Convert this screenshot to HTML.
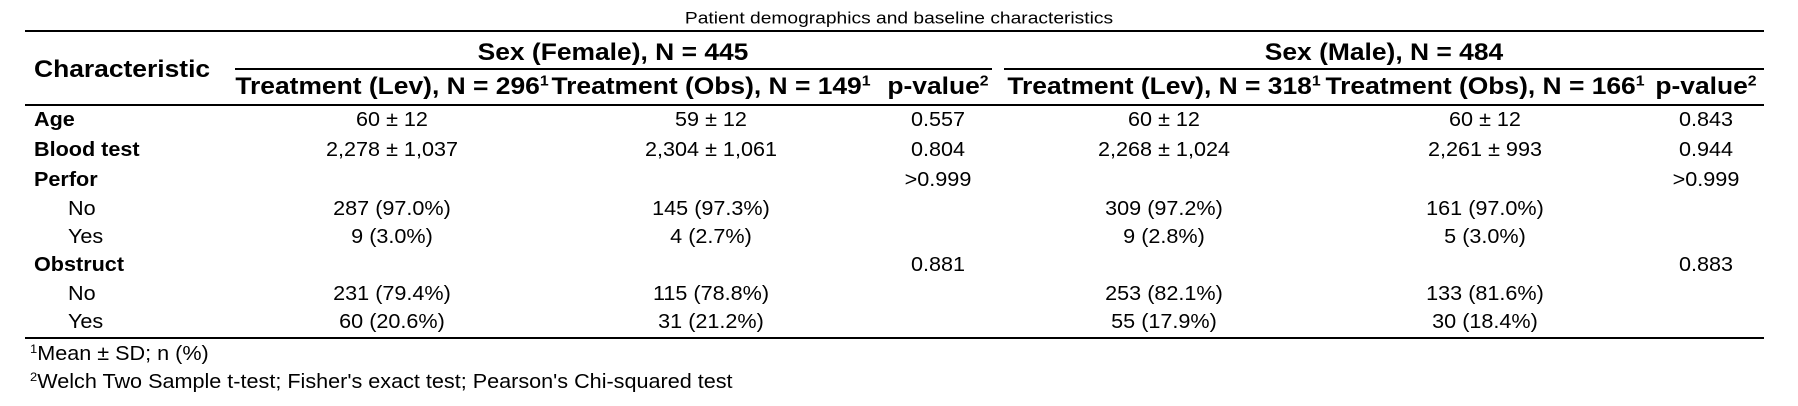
<!DOCTYPE html>
<html><head><meta charset="utf-8"><style>
body{margin:0;background:#fff;}
#p{position:relative;width:1798px;height:406px;overflow:hidden;font-family:"Liberation Sans",Arial,sans-serif;color:#000;}
.t{position:absolute;white-space:nowrap;line-height:1;}
.c{transform:translate(-50%,-50%) scaleX(1.08);transform-origin:center;}
.l{transform:translateY(-50%) scaleX(1.08);transform-origin:left center;}
.h.c{transform:translate(-50%,-50%) scaleX(1.1);}
.h.l{transform:translateY(-50%) scaleX(1.1);}
.b{font-weight:bold;}
.h{font-size:24px;font-weight:bold;}
.n{font-size:20px;}
sup{font-size:0.6em;vertical-align:0.6em;line-height:0;}
.r{position:absolute;background:#000;}
</style></head><body>
<div id="p">
<div class="t c" style="left:899px;top:18px;font-size:17px;transform:translate(-50%,-50%) scaleX(1.13)">Patient demographics and baseline characteristics</div>
<div class="r" style="left:25px;top:30px;width:1739px;height:2px"></div>
<div class="t l h" style="left:34px;top:70px">Characteristic</div>
<div class="t c h" style="left:613px;top:53px">Sex (Female), N = 445</div>
<div class="t c h" style="left:1384px;top:53px">Sex (Male), N = 484</div>
<div class="r" style="left:235px;top:68px;width:757px;height:2px"></div>
<div class="r" style="left:1004px;top:68px;width:760px;height:2px"></div>
<div class="t c h" style="left:392px;top:87px">Treatment (Lev), N = 296<sup>1</sup></div>
<div class="t c h" style="left:711px;top:87px">Treatment (Obs), N = 149<sup>1</sup></div>
<div class="t c h" style="left:938px;top:87px">p-value<sup>2</sup></div>
<div class="t c h" style="left:1164px;top:87px">Treatment (Lev), N = 318<sup>1</sup></div>
<div class="t c h" style="left:1485px;top:87px">Treatment (Obs), N = 166<sup>1</sup></div>
<div class="t c h" style="left:1706px;top:87px">p-value<sup>2</sup></div>
<div class="r" style="left:25px;top:104px;width:1739px;height:2px"></div>

<div class="t l n b" style="left:34px;top:120px">Age</div>
<div class="t c n" style="left:392px;top:120px">60 ± 12</div>
<div class="t c n" style="left:711px;top:120px">59 ± 12</div>
<div class="t c n" style="left:938px;top:120px">0.557</div>
<div class="t c n" style="left:1164px;top:120px">60 ± 12</div>
<div class="t c n" style="left:1485px;top:120px">60 ± 12</div>
<div class="t c n" style="left:1706px;top:120px">0.843</div>

<div class="t l n b" style="left:34px;top:150px">Blood test</div>
<div class="t c n" style="left:392px;top:150px">2,278 ± 1,037</div>
<div class="t c n" style="left:711px;top:150px">2,304 ± 1,061</div>
<div class="t c n" style="left:938px;top:150px">0.804</div>
<div class="t c n" style="left:1164px;top:150px">2,268 ± 1,024</div>
<div class="t c n" style="left:1485px;top:150px">2,261 ± 993</div>
<div class="t c n" style="left:1706px;top:150px">0.944</div>

<div class="t l n b" style="left:34px;top:180px">Perfor</div>
<div class="t c n" style="left:938px;top:180px">&gt;0.999</div>
<div class="t c n" style="left:1706px;top:180px">&gt;0.999</div>

<div class="t l n" style="left:68px;top:209px">No</div>
<div class="t c n" style="left:392px;top:209px">287 (97.0%)</div>
<div class="t c n" style="left:711px;top:209px">145 (97.3%)</div>
<div class="t c n" style="left:1164px;top:209px">309 (97.2%)</div>
<div class="t c n" style="left:1485px;top:209px">161 (97.0%)</div>

<div class="t l n" style="left:68px;top:237px">Yes</div>
<div class="t c n" style="left:392px;top:237px">9 (3.0%)</div>
<div class="t c n" style="left:711px;top:237px">4 (2.7%)</div>
<div class="t c n" style="left:1164px;top:237px">9 (2.8%)</div>
<div class="t c n" style="left:1485px;top:237px">5 (3.0%)</div>

<div class="t l n b" style="left:34px;top:265px">Obstruct</div>
<div class="t c n" style="left:938px;top:265px">0.881</div>
<div class="t c n" style="left:1706px;top:265px">0.883</div>

<div class="t l n" style="left:68px;top:294px">No</div>
<div class="t c n" style="left:392px;top:294px">231 (79.4%)</div>
<div class="t c n" style="left:711px;top:294px">115 (78.8%)</div>
<div class="t c n" style="left:1164px;top:294px">253 (82.1%)</div>
<div class="t c n" style="left:1485px;top:294px">133 (81.6%)</div>

<div class="t l n" style="left:68px;top:322px">Yes</div>
<div class="t c n" style="left:392px;top:322px">60 (20.6%)</div>
<div class="t c n" style="left:711px;top:322px">31 (21.2%)</div>
<div class="t c n" style="left:1164px;top:322px">55 (17.9%)</div>
<div class="t c n" style="left:1485px;top:322px">30 (18.4%)</div>

<div class="r" style="left:25px;top:337px;width:1739px;height:2px"></div>
<div class="t l n" style="left:30px;top:354px"><sup>1</sup>Mean ± SD; n (%)</div>
<div class="t l n" style="left:30px;top:382px"><sup>2</sup>Welch Two Sample t-test; Fisher's exact test; Pearson's Chi-squared test</div>
</div>
</body></html>
